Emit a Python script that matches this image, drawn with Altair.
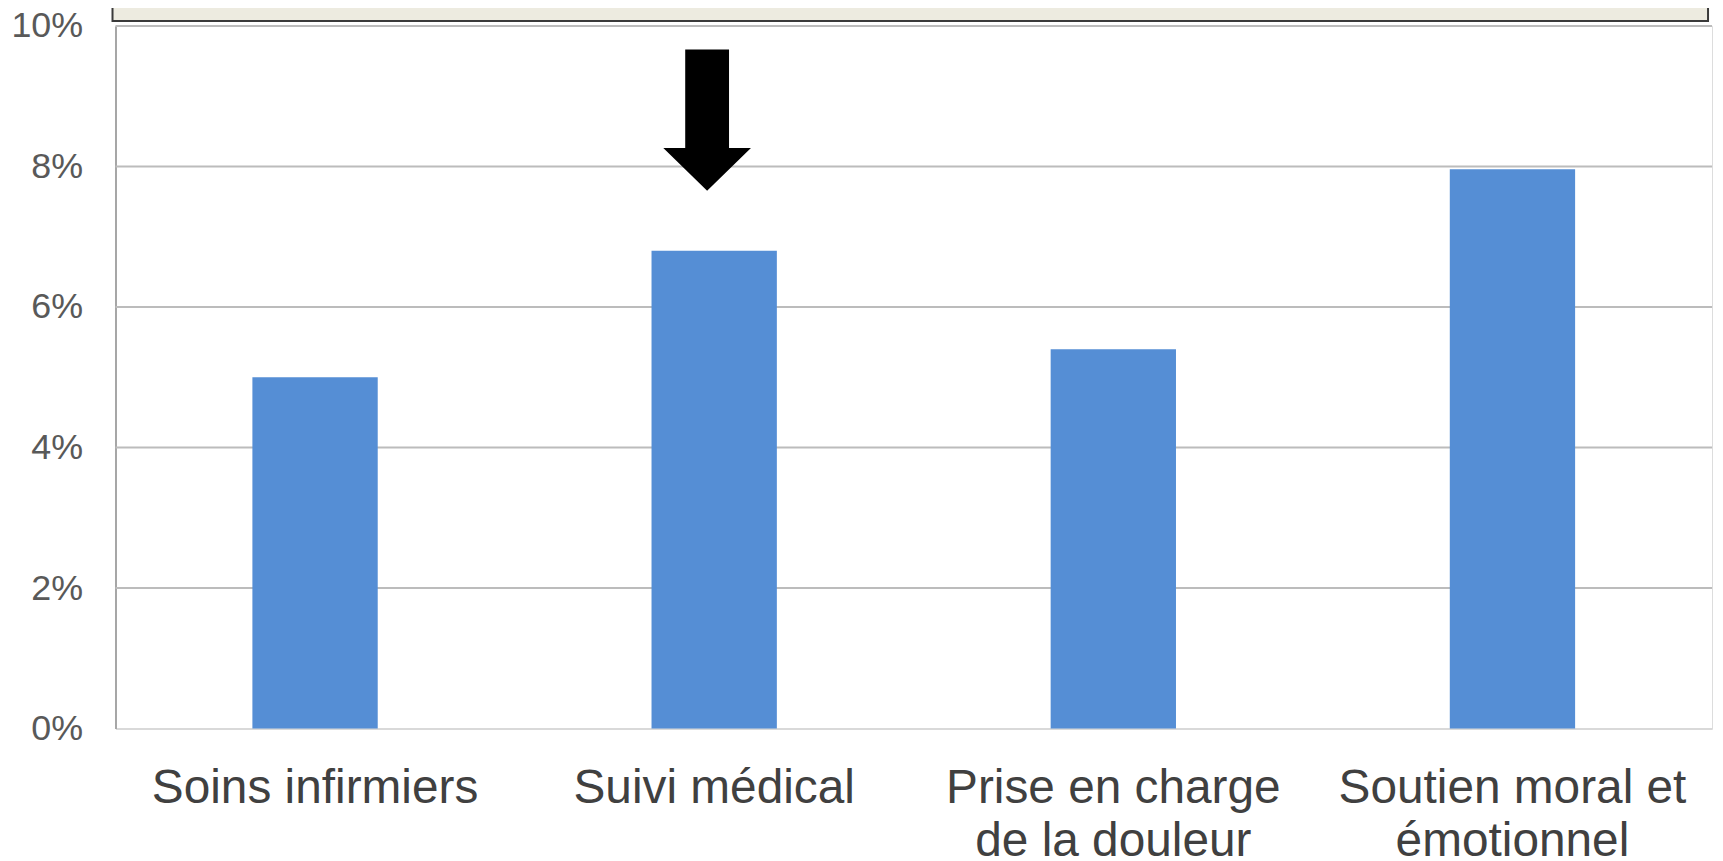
import altair as alt
import pandas as pd

categories = ["Soins infirmiers", "Suivi médical", "Prise en charge|de la douleur", "Soutien moral et|émotionnel"]
values = [0.050, 0.068, 0.054, 0.0796]
y_ticks = [0, 0.02, 0.04, 0.06, 0.08, 0.10]
grid_values = [0.02, 0.04, 0.06, 0.08, 0.10]
arrow_category = ["Suivi médical"]
arrow_value = [0.0866]

bars_df = pd.DataFrame({"cat": categories, "val": values})
grid_df = pd.DataFrame({"g": grid_values})
arrow_df = pd.DataFrame({"cat": arrow_category, "val": arrow_value})

xscale = alt.Scale(domain=categories, paddingInner=0.686, paddingOuter=0.343)
yscale = alt.Scale(domain=[0, 0.1], nice=False)

x_enc = alt.X("cat:N", scale=xscale, sort=categories, title=None,
              axis=alt.Axis(labelAngle=0, labelFontSize=48, labelColor="#404040",
                            labelFont="Liberation Sans", labelLineHeight=53,
                            labelPadding=36, ticks=False, domainColor="#d9d9d9",
                            domainWidth=2, labelLimit=0, labelOverlap=False,
                            labelExpr="split(datum.label, '|')"))
y_enc = alt.Y("val:Q", scale=yscale, title=None,
              axis=alt.Axis(values=y_ticks, format=".0%", labelFontSize=36,
                            labelColor="#595959", labelFont="Liberation Sans",
                            labelPadding=33, ticks=False, domainColor="#a6a6a6",
                            domainWidth=2, grid=False))

grid = alt.Chart(grid_df).mark_rule(color="#bcbcbc", strokeWidth=2).encode(
    y=alt.Y("g:Q", scale=yscale)
)

bars = alt.Chart(bars_df).mark_bar(color="#558ED5").encode(x=x_enc, y=y_enc)

arrow_path = "M -0.41 -1 L 0.21 -1 L 0.21 0.394 L 0.52 0.394 L -0.1 1 L -0.72 0.394 L -0.41 0.394 Z"
arrow = alt.Chart(arrow_df).mark_point(shape=arrow_path, filled=True, color="black",
                                        opacity=1, size=20164, strokeWidth=0).encode(
    x=alt.X("cat:N", scale=xscale, sort=categories),
    y=alt.Y("val:Q", scale=yscale)
)

box = alt.Chart(pd.DataFrame({"a": [1]})).mark_rect(
    fill="#EDEBE0", stroke="#3a3a3a", strokeWidth=2
).encode(
    x=alt.value(-3), x2=alt.value(1600), y=alt.value(-60), y2=alt.value(-5)
)

chart = alt.layer(grid, bars, arrow, box).properties(
    width=1604, height=706,
    autosize=alt.AutoSizeParams(type="none"),
    padding={"left": 108, "top": 16, "right": 3, "bottom": 131},
).configure_view(stroke=None).configure(background="white")

chart.save("out.html", embed_options={"renderer": "svg", "actions": False})
